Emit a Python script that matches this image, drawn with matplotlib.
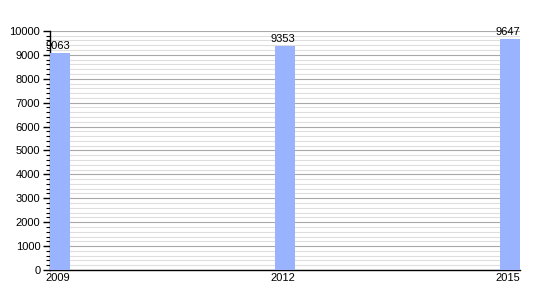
import matplotlib
matplotlib.use("Agg")
import matplotlib.pyplot as plt
from matplotlib.ticker import MultipleLocator

years = ["2009", "2012", "2015"]
population = [9063, 9353, 9647]

plt.rcParams['font.family'] = ['Liberation Sans', 'DejaVu Sans']

fig = plt.figure(figsize=(5.5, 3), dpi=100)
ax = fig.add_axes([0.091, 0.1, 0.854, 0.797])

x = range(len(years))
bars = ax.bar(x, population, width=0.09, color='#99b3ff', zorder=3)

for xi, v in zip(x, population):
    ax.text(xi - 0.01, v + 80, str(v), ha='center', va='bottom', fontsize=8, zorder=4)

ax.set_xlim(-0.045, 2.045)
ax.set_ylim(0, 10000)
ax.set_xticks([xi - 0.01 for xi in x])
ax.set_xticklabels(years)
ax.yaxis.set_major_locator(MultipleLocator(1000))
ax.yaxis.set_minor_locator(MultipleLocator(200))

ax.grid(axis='y', which='major', color='#a8a8a8', linewidth=0.8, zorder=1)
ax.grid(axis='y', which='minor', color='#dedede', linewidth=0.8, zorder=1)

for s in ['top', 'right']:
    ax.spines[s].set_visible(False)
ax.spines['left'].set_linewidth(1)
ax.spines['bottom'].set_linewidth(1)

ax.tick_params(axis='y', which='major', length=5, width=1, labelsize=8, pad=2)
ax.tick_params(axis='y', which='minor', length=3, width=0.8)
ax.tick_params(axis='x', length=0, labelsize=8, pad=2)

fig.savefig("out.png", dpi=100)
